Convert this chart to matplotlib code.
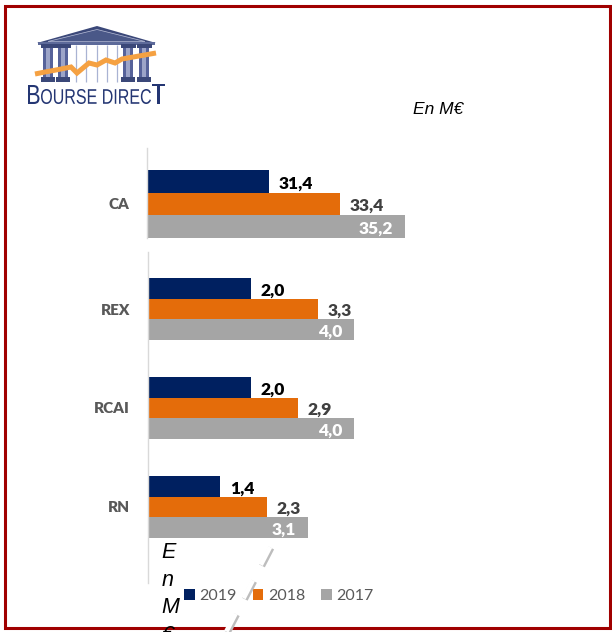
import matplotlib
matplotlib.use('Agg')
import matplotlib.pyplot as plt
from matplotlib.patches import Rectangle, Polygon, PathPatch
from matplotlib.lines import Line2D
from matplotlib.textpath import TextPath
from matplotlib.font_manager import FontProperties
from matplotlib.transforms import Affine2D
import matplotlib.patheffects as pe

# ---------------- data ----------------
years = ['2019', '2018', '2017']
top_categories = ['CA']
top_2019 = [31.4]
top_2018 = [33.4]
top_2017 = [35.2]
bottom_categories = ['REX', 'RCAI', 'RN']
bottom_2019 = [2.0, 2.0, 1.4]
bottom_2018 = [3.3, 2.9, 2.3]
bottom_2017 = [4.0, 4.0, 3.1]
unit_label = 'En M€'
logo_word = 'BOURSE DIRECT'

colors = ['#002060', '#E46C0A', '#A5A5A5']
label_colors = ['#000000', '#404040', '#FFFFFF']

plt.rcParams['lines.scale_dashes'] = False

W, H = 612, 632
fig = plt.figure(figsize=(W / 100, H / 100), dpi=100)


def rect(l, t, r, b):
    return [l / W, 1 - b / H, (r - l) / W, (b - t) / H]


def fmt(v):
    return f"{v:.1f}".replace('.', ',')


bar_h = 0.625 / 3
val_font = dict(family='Lato', fontsize=12.5, fontweight='heavy')


def draw_group(ax, cats, series):
    ypos = list(range(len(cats)))
    handles = []
    for i, (vals, col, lcol) in enumerate(zip(series, colors, label_colors)):
        ys = [y + (i - 1) * bar_h for y in ypos]
        bars = ax.barh(ys, vals, height=bar_h, color=col, label=years[i])
        handles.append(bars)
        for yy, v in zip(ys, vals):
            if i < 2:
                ax.annotate(fmt(v), xy=(v, yy), xytext=(7, -1.5), textcoords='offset points',
                            ha='left', va='center', color=lcol, **val_font)
            else:
                ax.annotate(fmt(v), xy=(v, yy), xytext=(-8.5, -1.5), textcoords='offset points',
                            ha='right', va='center', color=lcol, **val_font)
    ax.set_yticks(ypos, cats)
    for t in ax.get_yticklabels():
        t.set_fontweight('heavy')
        t.set_color('#595959')
        t.set_fontsize(11)
        t.set_family('Lato')
    ax.tick_params(axis='y', length=0, pad=13)
    ax.set_xticks([])
    for s in ['top', 'right', 'bottom']:
        ax.spines[s].set_visible(False)
    ax.spines['left'].set_color('#D9D9D9')
    ax.spines['left'].set_linewidth(1)
    ax.patch.set_alpha(0)
    return handles


ax_top = fig.add_axes(rect(147, 148, 560, 238))
draw_group(ax_top, top_categories, [top_2019, top_2018, top_2017])
ax_top.set_xlim(28, 28 + 413 / 35.8)
ax_top.set_ylim(0.3125, -0.514)

ax_bot = fig.add_axes(rect(148, 252, 560, 583))
handles = draw_group(ax_bot, bottom_categories, [bottom_2019, bottom_2018, bottom_2017])
ax_bot.set_xlim(0, 412 / 51.6)
ax_bot.set_ylim(2.768, -0.576)

leg = fig.legend(handles, years, loc='center', bbox_to_anchor=(279 / W, 1 - 596 / H),
                 ncol=3, frameon=False, handlelength=0.65, handleheight=0.65,
                 handletextpad=0.3, columnspacing=1.0, prop={'family': 'Lato', 'size': 11.5})
for t in leg.get_texts():
    t.set_color('#595959')

# ---------------- overlay (logo, texts, frame) ----------------
ov = fig.add_axes([0, 0, 1, 1], zorder=10)
ov.set_xlim(0, W)
ov.set_ylim(H, 0)
ov.axis('off')
ov.patch.set_alpha(0)

# unit text
ov.text(413, 110, unit_label, fontsize=12.5, style='italic', family='Liberation Sans',
        ha='left', va='center', color='#000000')

# vertical stacked unit text
ov.text(161.5, 542, '\n'.join(list(unit_label.replace(' ', ''))), fontsize=15.5, style='italic',
        family='Liberation Sans', ha='left', va='top', color='#000000', linespacing=1.42)

# white dashed line with grey edge
ln = Line2D([270, 224], [547, 636], color='white', lw=3.4, dashes=(14.5, 12.5),
            solid_capstyle='butt', dash_capstyle='butt',
            path_effects=[pe.Stroke(linewidth=4.6, foreground='#BDBDBD', offset=(0.9, -0.7)),
                          pe.Normal()])
ov.add_line(ln)

# logo: pediment
navy_logo = '#3B4879'
ov.add_patch(Polygon([(37, 43), (97, 26), (156, 43)], closed=True, fc=navy_logo, ec='none'))
ov.add_patch(Polygon([(48, 41.5), (97, 29.5), (145, 41.5)], closed=True, fc='#4A5888',
                     ec='#B8BED8', lw=0.5))
ov.add_patch(Rectangle((38, 41.5), 117, 3, fc='#5D6A9A', ec='none'))

# thin inner columns
for x in [76, 86, 97, 107, 117]:
    ov.plot([x, x], [45, 82], color='#A9B3D3', lw=0.9, solid_capstyle='butt')

# orange trend
ov.plot([35, 45, 56, 71, 77, 89, 97, 106, 115, 122, 156],
        [74, 72, 70, 67, 73, 63, 65, 60, 63, 59, 53],
        color='#F5A142', lw=3.6, solid_capstyle='butt', solid_joinstyle='miter')

# columns
for x0, x1 in [(43, 53), (58, 68), (123, 133), (139, 149)]:
    ov.add_patch(Rectangle((x0 - 2.5, 44), (x1 - x0) + 5, 4, fc=navy_logo, ec='none'))
    ov.add_patch(Rectangle((x0, 48), x1 - x0, 30, fc='#56629A', ec='none'))
    ov.add_patch(Rectangle((x0 + 3, 48), 3.5, 30, fc='#9CA4C8', ec='none'))
    ov.add_patch(Rectangle((x0 - 2, 77), (x1 - x0) + 4, 5, fc=navy_logo, ec='none'))

# logo text
fp = FontProperties(family='Liberation Sans')


def fit_text(s, box, color):
    tp = TextPath((0, 0), s, size=100, prop=fp)
    bb = tp.get_extents()
    l, t, r, b = box
    sx = (r - l) / bb.width
    sy = (b - t) / bb.height
    tr = Affine2D().translate(-bb.x0, -bb.y0).scale(sx, -sy).translate(l, b)
    ov.add_patch(PathPatch(tr.transform_path(tp), fc=color, ec='none'))


logo_col = '#243673'
fit_text(logo_word[0], (28, 85, 39.5, 104), logo_col)
fit_text(logo_word[1:-1], (41, 89, 151, 104), logo_col)
fit_text(logo_word[-1], (152, 84, 165, 104), logo_col)

# frame
ov.add_patch(Rectangle((4.5, 5.5), 605, 622.5, fill=False, ec='#A00000', lw=2.2))

fig.savefig('out.png', dpi=100)
